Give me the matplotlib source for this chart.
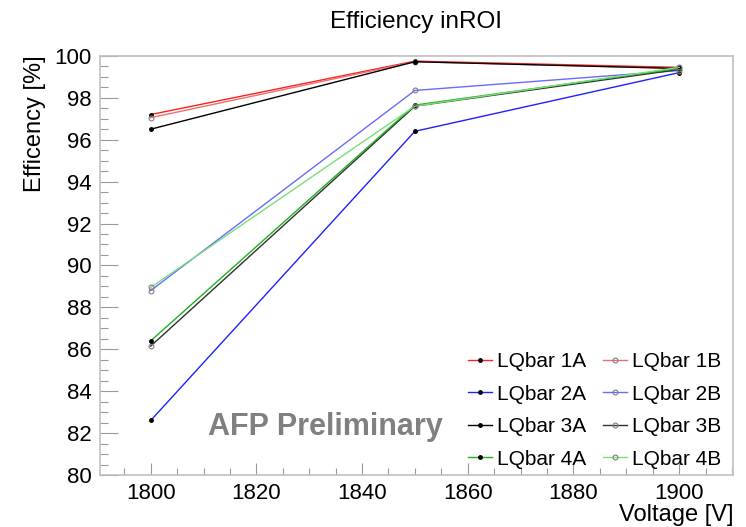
import matplotlib
matplotlib.use("Agg")
import matplotlib.pyplot as plt
from matplotlib.ticker import MultipleLocator

plt.rcParams['font.family'] = ['Liberation Sans', 'DejaVu Sans']

voltage = [1800, 1850, 1900]
labels = ["LQbar 1A", "LQbar 1B", "LQbar 2A", "LQbar 2B",
          "LQbar 3A", "LQbar 3B", "LQbar 4A", "LQbar 4B"]
eff_1A = [97.20, 99.75, 99.45]
eff_1B = [97.05, 99.72, 99.40]
eff_2A = [82.60, 96.40, 99.20]
eff_2B = [88.80, 98.35, 99.30]
eff_3A = [96.50, 99.72, 99.40]
eff_3B = [86.15, 97.60, 99.35]
eff_4A = [86.40, 97.65, 99.40]
eff_4B = [88.95, 97.60, 99.45]
series = [eff_1A, eff_1B, eff_2A, eff_2B, eff_3A, eff_3B, eff_4A, eff_4B]

colors = ['#ff2020', '#f07070', '#2020ff', '#6a6aff',
          '#000000', '#303030', '#20b020', '#7ade7a']

fig = plt.figure(figsize=(7.46, 5.27), dpi=100)
ax = fig.add_axes([0.134, 0.0987, 0.8486, 0.7953])

handles = []
for i, (lab, ys, c) in enumerate(zip(labels, series, colors)):
    if i % 2 == 0:
        h, = ax.plot(voltage, ys, color=c, lw=1.0, marker='o', ms=2.5,
                     mfc='black', mec='black', label=lab)
    else:
        h, = ax.plot(voltage, ys, color=c, lw=1.0, marker='o', ms=3.5,
                     mfc='none', mec='#808080', mew=0.8, label=lab)
    handles.append(h)

ax.set_xlim(1790.4, 1910.2)
ax.set_ylim(80, 100)
ax.xaxis.set_major_locator(MultipleLocator(20))
ax.xaxis.set_minor_locator(MultipleLocator(5))
ax.yaxis.set_major_locator(MultipleLocator(2))
ax.yaxis.set_minor_locator(MultipleLocator(0.5))
ax.tick_params(which='both', direction='in', top=False, right=False,
               labelsize=16, colors='#999999', labelcolor='black', width=0.8)
ax.tick_params(axis='y', which='major', length=13, pad=6)
ax.tick_params(axis='y', which='minor', length=6)
ax.tick_params(axis='x', which='major', length=8.6, pad=6)
ax.tick_params(axis='x', which='minor', length=4.7)
for sp in ax.spines.values():
    sp.set_color('#c0c0c0')
    sp.set_linewidth(1.2)

ax.set_title("Efficiency inROI", fontsize=17.5, pad=20)
ax.set_ylabel("Efficency [%]", fontsize=17, loc='top', labelpad=6)
ax.set_xlabel("Voltage [V]", fontsize=17, loc='right', labelpad=0)

ax.text(0.171, 0.0955, "AFP Preliminary", transform=ax.transAxes,
        fontsize=22, fontweight='bold', color='#808080', va='baseline')

order = [0, 2, 4, 6, 1, 3, 5, 7]
ax.legend([handles[k] for k in order], [labels[k] for k in order],
          ncol=2, frameon=False, fontsize=15, loc='upper left',
          bbox_to_anchor=(468 / 746, 1 - 352 / 527),
          bbox_transform=fig.transFigure, borderpad=0, borderaxespad=0,
          handlelength=1.15, handletextpad=0.24, columnspacing=0.82,
          labelspacing=0.65)

fig.savefig("out.png", dpi=100)
